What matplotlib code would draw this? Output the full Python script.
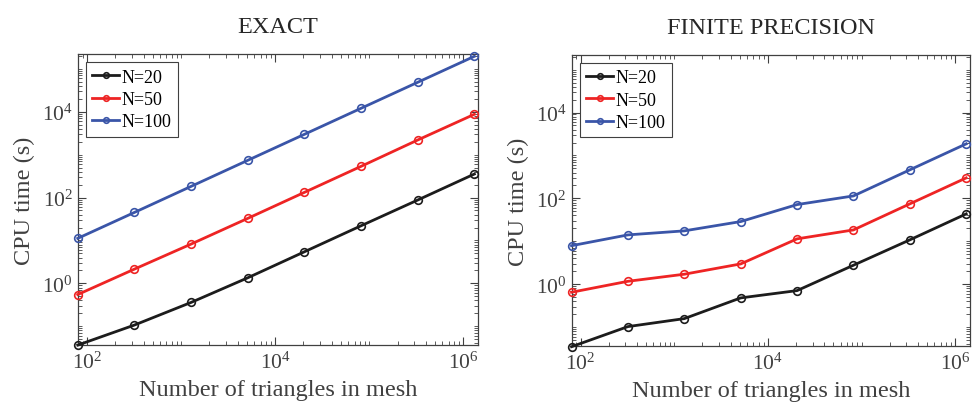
import numpy as np
import matplotlib
matplotlib.use("Agg")
import matplotlib.pyplot as plt
from matplotlib.ticker import LogLocator, LogFormatterSciNotation, NullFormatter

plt.rcParams['font.family'] = ['Liberation Serif', 'DejaVu Serif']
plt.rcParams['mathtext.fontset'] = 'stix'

# number of triangles (icosahedral refinement)
triangles = [80, 320, 1280, 5120, 20480, 81920, 327680, 1310720]
labels = ["N=20", "N=50", "N=100"]
colors = ["#1c1c1c", "#ee2424", "#3a55a8"]
xticks = [1e2, 1e4, 1e6]
yticks = [1e0, 1e2, 1e4]

# CPU time (s), exact arithmetic
exact_n20 = [0.0365, 0.107, 0.36, 1.35, 5.45, 22, 87.5, 353]
exact_n50 = [0.55, 2.15, 8.24, 32.7, 132, 533, 2190, 8700]
exact_n100 = [11.2, 45, 182, 736, 2970, 12000, 48400, 195000]

# CPU time (s), finite precision
finite_n20 = [0.035, 0.103, 0.158, 0.48, 0.71, 2.77, 10.8, 43.5]
finite_n50 = [0.65, 1.17, 1.71, 2.97, 11.4, 18.4, 74.5, 300]
finite_n100 = [7.9, 14.1, 17.5, 28.8, 71.7, 114, 462, 1864]

panels = [
    ("EXACT", [exact_n20, exact_n50, exact_n100]),
    ("FINITE PRECISION", [finite_n20, finite_n50, finite_n100]),
]

grey = "#404040"
fig = plt.figure(figsize=(9.72, 4.14), dpi=100)
boxes = [[0.080, 0.164, 0.412, 0.703], [0.588, 0.162, 0.410, 0.703]]

for box, (title, series) in zip(boxes, panels):
    ax = fig.add_axes(box)
    for vals, lab, c in zip(series, labels, colors):
        ax.plot(triangles, vals, color=c, lw=2.0, marker="o", ms=5.5,
                mfc="none", mew=1.2, label=lab, clip_on=False, zorder=3)
    ax.set_xscale("log")
    ax.set_yscale("log")

    ax.set_xticks(xticks)
    ax.set_yticks(yticks)
    ax.xaxis.set_minor_locator(LogLocator(base=10, subs=np.arange(1, 10), numticks=20))
    ax.yaxis.set_minor_locator(LogLocator(base=10, subs=np.arange(1, 10), numticks=20))
    ax.xaxis.set_minor_formatter(NullFormatter())
    ax.yaxis.set_minor_formatter(NullFormatter())
    ax.xaxis.set_major_formatter(LogFormatterSciNotation())
    ax.yaxis.set_major_formatter(LogFormatterSciNotation())
    ax.set_xlim(80, 1.44e6)
    ax.set_ylim(0.0365, 2.2e5)

    ax.tick_params(which="both", direction="in", top=True, right=True,
                   color=grey, labelcolor=grey, labelsize=15.5)
    ax.tick_params(which="major", length=6, width=0.8)
    ax.tick_params(which="minor", length=3, width=0.6)
    ax.tick_params(axis="x", pad=5)
    for s in ax.spines.values():
        s.set_color(grey)
        s.set_linewidth(0.9)

    ax.set_xlabel("Number of triangles in mesh", fontsize=17.5, color=grey, labelpad=4)
    ax.set_ylabel("CPU time (s)", fontsize=17.5, color=grey, labelpad=5)
    ax.set_title(title, fontsize=17.5, color="#262626", pad=16)

    leg = ax.legend(loc="upper left", fontsize=13, handlelength=1.5,
                    handletextpad=0.15, labelspacing=0.3, borderpad=0.35,
                    borderaxespad=0.45, fancybox=False, framealpha=1)
    leg.get_frame().set_edgecolor(grey)
    leg.get_frame().set_linewidth(0.8)
    for h in leg.get_lines():
        h.set_markersize(4)

fig.savefig("out.png", dpi=100)
